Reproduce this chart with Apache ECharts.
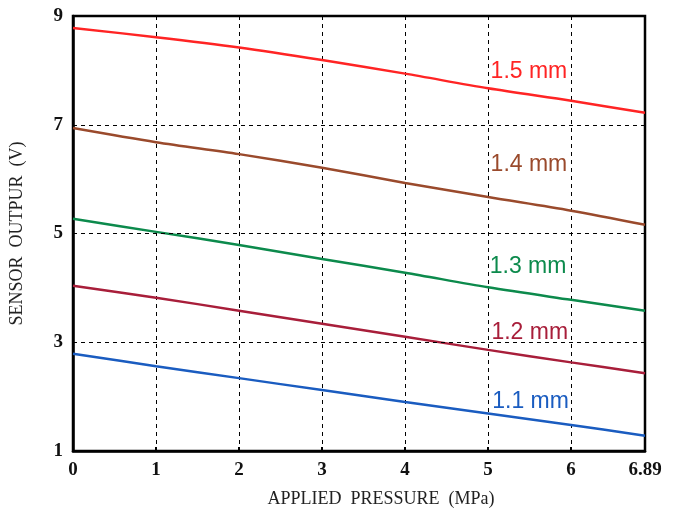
<!DOCTYPE html>
<html>
<head>
<meta charset="utf-8">
<script src="https://cdn.jsdelivr.net/npm/echarts@6/dist/echarts.min.js"></script>
<style>html,body{margin:0;padding:0;background:#fff;}#c{width:679px;height:514px;}</style>
</head>
<body>
<div id="c"></div>
<script>
var pressure = [0, 1, 2, 3, 4, 5, 6, 6.89];
var s15 = [8.78, 8.61, 8.42, 8.19, 7.94, 7.67, 7.44, 7.22];
var s14 = [6.94, 6.68, 6.46, 6.21, 5.93, 5.67, 5.42, 5.16];
var s13 = [5.27, 5.03, 4.79, 4.53, 4.28, 4.01, 3.78, 3.58];
var s12 = [4.04, 3.82, 3.58, 3.34, 3.10, 2.86, 2.63, 2.43];
var s11 = [2.79, 2.56, 2.34, 2.12, 1.90, 1.69, 1.48, 1.28];
var seriesNames = ['1.5 mm', '1.4 mm', '1.3 mm', '1.2 mm', '1.1 mm'];
var seriesColors = ['#ff2424', '#9a4a2c', '#0c8a4c', '#a81e3a', '#1a5cc0'];
var labelX = [5.03, 5.03, 5.02, 5.04, 5.05];
var labelY = [7.97, 6.26, 4.39, 3.17, 1.90];
var yTicks = [1, 3, 5, 7, 9];
var yGrid = [3, 5, 7];

var allData = [s15, s14, s13, s12, s11];
var series = allData.map(function (vals, i) {
  return {
    type: 'line',
    name: seriesNames[i],
    data: pressure.map(function (p, j) { return [p, vals[j]]; }),
    showSymbol: false,
    smooth: 0.3,
    lineStyle: { color: seriesColors[i], width: 2.5 },
    z: 3,
    markPoint: {
      symbol: 'circle',
      symbolSize: 0,
      data: [{ coord: [labelX[i], labelY[i]] }],
      label: {
        show: true,
        position: 'right',
        distance: 0,
        formatter: seriesNames[i],
        color: seriesColors[i],
        fontFamily: 'Liberation Sans, Arial, sans-serif',
        fontSize: 23
      }
    }
  };
});
series.push({
  type: 'line',
  data: [],
  markLine: {
    silent: true,
    symbol: 'none',
    label: { show: false },
    lineStyle: { color: '#000', type: [4, 4], width: 1 },
    data: yGrid.map(function (v) { return { yAxis: v }; })
  }
});

var chart = echarts.init(document.getElementById('c'));
chart.setOption({
  animation: false,
  backgroundColor: '#fff',
  grid: { left: 71, right: 34, top: 16, bottom: 63, show: true, borderColor: '#000', borderWidth: 2.5 },
  xAxis: {
    type: 'value',
    min: 0,
    max: 6.89,
    interval: 1,
    name: 'APPLIED  PRESSURE  (MPa)',
    nameLocation: 'middle',
    nameGap: 39,
    nameTextStyle: { fontFamily: 'Liberation Serif, Times New Roman, serif', fontSize: 18, color: '#222', padding: [0, 0, 0, 44] },
    axisLine: { lineStyle: { color: '#000', width: 2.5 } },
    axisTick: { show: true, inside: true, length: 4, lineStyle: { color: '#000', width: 2 } },
    axisLabel: {
      showMaxLabel: true,
      margin: 10,
      fontFamily: 'Liberation Serif, Times New Roman, serif',
      fontWeight: 'bold',
      fontSize: 19,
      color: '#111'
    },
    splitLine: { show: true, lineStyle: { color: '#000', type: [4, 4], width: 1 } }
  },
  yAxis: {
    type: 'value',
    min: 1,
    max: 9,
    interval: 1,
    name: 'SENSOR  OUTPUR  (V)',
    nameLocation: 'middle',
    nameGap: 47,
    nameTextStyle: { fontFamily: 'Liberation Serif, Times New Roman, serif', fontSize: 18, color: '#222' },
    axisLine: { lineStyle: { color: '#000', width: 2.5 } },
    axisTick: { show: false },
    axisLabel: {
      margin: 10,
      fontFamily: 'Liberation Serif, Times New Roman, serif',
      fontWeight: 'bold',
      fontSize: 19,
      color: '#111',
      formatter: function (v) { return yTicks.indexOf(v) >= 0 ? String(v) : ''; }
    },
    splitLine: { show: false }
  },
  series: series
});
</script>
</body>
</html>
